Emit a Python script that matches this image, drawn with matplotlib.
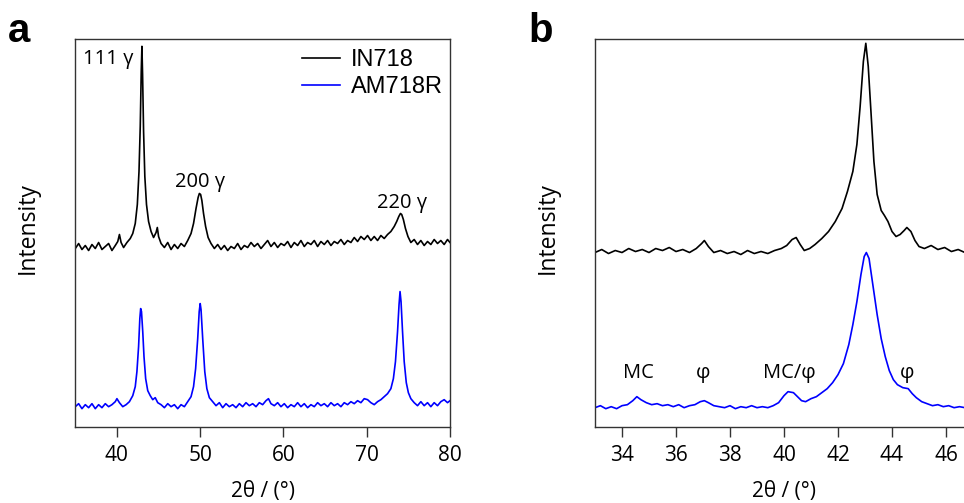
import matplotlib
matplotlib.use("Agg")
import matplotlib.pyplot as plt

# panel a: IN718 and AM718R, 2theta vs intensity (arbitrary, offset)
in718_a = [(35.0,178),(35.4,183),(35.8,177),(36.2,181),(36.6,176),(37.0,182),(37.4,178),(37.8,184),(38.2,177),(38.6,180),
           (39.0,183),(39.4,176),(39.8,181),(40.1,185),(40.3,192),(40.5,184),(40.8,179),(41.2,184),(41.6,188),(41.9,193),
           (42.2,203),(42.45,222),(42.65,255),(42.8,300),(42.92,355),(43.0,380),(43.08,352),(43.2,295),(43.35,250),(43.55,222),
           (43.8,205),(44.1,195),(44.4,189),(44.7,194),(44.85,199),(45.0,190),(45.3,183),(45.7,179),(46.1,184),(46.5,177),
           (46.9,182),(47.3,178),(47.7,183),(48.1,180),(48.5,186),(48.9,193),(49.2,203),(49.5,218),(49.75,229),(49.9,233),
           (50.05,232),(50.2,226),(50.4,213),(50.65,200),(50.95,189),(51.3,183),(51.7,178),(52.1,182),(52.5,177),(52.9,181),
           (53.3,176),(53.7,180),(54.1,178),(54.5,183),(54.9,177),(55.3,181),(55.7,179),(56.1,184),(56.5,180),(56.9,183),
           (57.3,178),(57.7,182),(58.1,186),(58.5,180),(58.9,184),(59.3,179),(59.7,183),(60.1,181),(60.5,185),(60.9,179),
           (61.3,184),(61.7,181),(62.1,186),(62.5,180),(62.9,184),(63.3,182),(63.7,186),(64.1,180),(64.5,185),(64.9,182),
           (65.3,186),(65.7,181),(66.1,185),(66.5,183),(66.9,187),(67.3,182),(67.7,186),(68.1,184),(68.5,189),(68.9,185),
           (69.3,190),(69.7,187),(70.1,191),(70.5,186),(70.9,190),(71.3,186),(71.7,191),(72.1,188),(72.5,192),(72.9,195),
           (73.3,200),(73.6,205),(73.85,210),(74.05,213),(74.2,212),(74.4,207),(74.65,198),(74.95,190),(75.3,184),(75.7,187),
           (76.1,182),(76.5,186),(76.9,181),(77.3,185),(77.7,182),(78.1,187),(78.5,183),(78.9,186),(79.3,182),(79.7,187),
           (80.0,184)]

am718r_a = [(35.0,20),(35.4,23),(35.8,18),(36.2,22),(36.6,19),(37.0,23),(37.4,18),(37.8,22),(38.2,19),(38.6,23),
            (39.0,20),(39.4,22),(39.8,25),(40.0,28),(40.3,24),(40.7,20),(41.1,22),(41.5,25),(41.9,31),(42.2,40),
            (42.4,55),(42.6,80),(42.75,108),(42.85,118),(42.95,115),(43.1,95),(43.25,70),(43.45,48),(43.7,36),(44.0,31),
            (44.3,27),(44.6,29),(44.9,24),(45.3,22),(45.7,19),(46.1,23),(46.5,20),(46.9,22),(47.3,18),(47.7,22),
            (48.1,20),(48.5,25),(48.9,30),(49.2,40),(49.45,58),(49.7,88),(49.88,115),(50.0,123),(50.1,117),(50.3,88),
            (50.55,55),(50.8,38),(51.1,29),(51.5,25),(51.9,21),(52.3,24),(52.7,19),(53.1,23),(53.5,20),(53.9,22),
            (54.3,19),(54.7,23),(55.1,20),(55.5,24),(55.9,21),(56.3,23),(56.7,20),(57.1,24),(57.5,22),(57.9,26),
            (58.2,28),(58.5,23),(58.9,21),(59.3,24),(59.7,20),(60.1,23),(60.5,19),(60.9,22),(61.3,20),(61.7,24),
            (62.1,20),(62.5,23),(62.9,19),(63.3,22),(63.7,20),(64.1,24),(64.5,21),(64.9,23),(65.3,20),(65.7,24),
            (66.1,21),(66.5,23),(66.9,20),(67.3,24),(67.7,22),(68.1,25),(68.5,23),(68.9,26),(69.3,24),(69.7,28),
            (70.1,27),(70.5,24),(70.9,22),(71.3,25),(71.7,27),(72.1,30),(72.5,33),(72.9,38),(73.2,48),(73.45,65),
            (73.7,95),(73.88,122),(74.0,135),(74.12,125),(74.3,95),(74.5,65),(74.75,44),(75.0,34),(75.3,28),(75.7,24),
            (76.1,21),(76.5,25),(76.9,21),(77.3,24),(77.7,20),(78.1,24),(78.5,21),(78.9,25),(79.3,27),(79.7,24),
            (80.0,26)]

# panel b: zoom on the 111 region
in718_b = [(33.0,174),(33.25,177),(33.5,173),(33.75,176),(34.0,174),(34.25,178),(34.5,175),(34.75,177),(35.0,174),(35.25,178),
           (35.5,176),(35.75,179),(36.0,175),(36.25,177),(36.5,174),(36.75,178),(36.95,183),(37.05,186),(37.2,180),(37.4,174),
           (37.65,176),(37.9,173),(38.15,175),(38.4,172),(38.65,176),(38.9,173),(39.15,175),(39.4,173),(39.65,176),(39.9,178),
           (40.1,181),(40.3,187),(40.45,189),(40.6,182),(40.75,176),(40.95,178),(41.15,182),(41.4,188),(41.65,195),(41.9,205),
           (42.15,218),(42.35,235),(42.55,255),(42.7,282),(42.82,320),(42.94,365),(43.03,383),(43.12,360),(43.22,315),(43.33,265),
           (43.45,232),(43.6,216),(43.72,211),(43.85,205),(44.0,195),(44.15,190),(44.3,192),(44.45,196),(44.55,199),(44.7,195),
           (44.85,186),(45.0,180),(45.2,178),(45.45,181),(45.7,177),(45.95,179),(46.2,175),(46.45,177),(46.7,174),(46.95,176),
           (47.2,174)]

am718r_b = [(33.0,19),(33.2,21),(33.4,18),(33.6,20),(33.8,18),(34.0,21),(34.2,22),(34.4,26),(34.55,30),(34.7,27),
            (34.9,24),(35.1,22),(35.3,23),(35.5,21),(35.7,22),(35.9,20),(36.1,22),(36.3,19),(36.5,21),(36.7,22),
            (36.9,25),(37.05,26),(37.2,24),(37.4,21),(37.6,20),(37.8,19),(38.0,21),(38.2,18),(38.4,20),(38.6,19),
            (38.8,21),(39.0,19),(39.2,20),(39.4,19),(39.6,21),(39.8,24),(40.0,31),(40.15,35),(40.35,34),(40.5,30),
            (40.65,26),(40.8,25),(41.0,28),(41.2,30),(41.4,34),(41.6,38),(41.8,44),(42.0,52),(42.2,63),(42.4,82),
            (42.55,102),(42.7,125),(42.85,152),(42.97,170),(43.05,174),(43.15,168),(43.3,140),(43.45,112),(43.6,88),(43.75,70),
            (43.9,56),(44.05,47),(44.2,42),(44.4,39),(44.6,38),(44.75,33),(44.9,29),(45.1,25),(45.3,23),(45.5,21),
            (45.7,22),(45.9,20),(46.1,21),(46.3,19),(46.5,20),(46.7,19),(46.9,20),(47.2,19)]

peak_labels_a = ["111 γ", "200 γ", "220 γ"]
peak_pos_a = [(38.9, 367), (50.0, 244), (74.3, 223)]
peak_labels_b = ["MC", "φ", "MC/φ", "φ"]
peak_pos_b = [(34.6, 54), (37.0, 54), (40.2, 54), (44.55, 54)]

tick_font = "Open Sans"
spine_col = "#333333"

fig = plt.figure(figsize=(9.64, 5.03), dpi=100)
ax_a = fig.add_axes([75.3/964, 76.3/503, 374.7/964, 387.4/503])
ax_b = fig.add_axes([595/964, 76.3/503, 378/964, 387.4/503])


def style(ax, xlim, ticks):
    ax.set_xlim(*xlim)
    ax.set_ylim(0, 387)
    ax.set_xticks(ticks)
    ax.set_yticks([])
    ax.tick_params(axis="x", direction="out", length=7, width=1, color=spine_col,
                   labelsize=15, pad=6.5)
    for lab in ax.get_xticklabels():
        lab.set_fontfamily(tick_font)
    for s in ax.spines.values():
        s.set_color(spine_col)
        s.set_linewidth(1)
    ax.set_xlabel("2θ / (°)", fontsize=15, fontfamily=tick_font)
    ax.set_ylabel("Intensity", fontsize=16.5, fontfamily=tick_font)
    ax.xaxis.set_label_coords(0.5, -0.14)
    ax.yaxis.set_label_coords(-0.094, 0.513)


x, y = zip(*in718_a)
ax_a.plot(x, y, color="black", lw=1.2, label="IN718")
x, y = zip(*am718r_a)
ax_a.plot(x, y, color="#0000ff", lw=1.2, label="AM718R")
style(ax_a, (35, 80), [40, 50, 60, 70, 80])
for t, (px, py) in zip(peak_labels_a, peak_pos_a):
    ax_a.text(px, py, t, ha="center", va="center", fontsize=14.5, fontfamily=tick_font)
leg = ax_a.legend(loc="upper right", bbox_to_anchor=(1.012, 1.005), frameon=False,
                  prop={"family": "Liberation Sans", "size": 17},
                  handlelength=1.6, handletextpad=0.45, labelspacing=0.2, borderaxespad=0.1)

x, y = zip(*in718_b)
ax_b.plot(x, y, color="black", lw=1.2)
x, y = zip(*am718r_b)
ax_b.plot(x, y, color="#0000ff", lw=1.2)
style(ax_b, (33, 47), [34, 36, 38, 40, 42, 44, 46])
for t, (px, py) in zip(peak_labels_b, peak_pos_b):
    ax_b.text(px, py, t, ha="center", va="center", fontsize=14.5, fontfamily=tick_font)

fig.text(8/964, 1 - 42/503, "a", fontsize=29, fontweight="bold", fontfamily="Liberation Sans", va="baseline")
fig.text(528/964, 1 - 42/503, "b", fontsize=29, fontweight="bold", fontfamily="Liberation Sans", va="baseline")

fig.savefig("out.png", dpi=100)
